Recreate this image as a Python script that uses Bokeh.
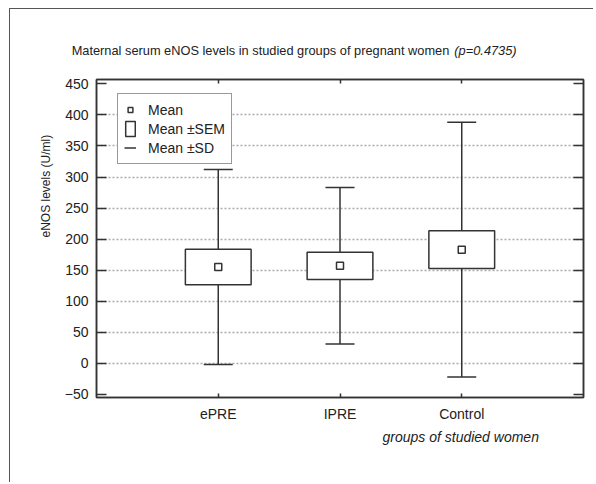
import numpy as np
from bokeh.plotting import figure
from bokeh.models import (LinearAxis, FixedTicker, Range1d, Legend, LegendItem,
                          ColumnDataSource, Title)
from bokeh.embed import file_html
from bokeh.resources import INLINE

# ---- data ----
groups = ["ePRE", "IPRE", "Control"]
means = [155, 157, 183]
sems = [28.5, 22, 30.5]
sds = [157, 126, 205]
y_ticks = [-50, 0, 50, 100, 150, 200, 250, 300, 350, 400, 450]
title_main = "Maternal serum eNOS levels in studied groups of pregnant women"
title_p = "(p=0.4735)"
y_title = "eNOS levels (U/ml)"
x_title = "groups of studied women"

FONT = "Liberation Sans"
INK = "#333333"
TXT = "#222222"

xs = list(range(1, len(groups) + 1))
m = np.array(means, float)
se = np.array(sems, float)
sd = np.array(sds, float)
src = ColumnDataSource(dict(x=xs, mean=m, lo_se=m - se, hi_se=m + se,
                            lo_sd=m - sd, hi_sd=m + sd))

p = figure(width=584, height=474, output_backend="svg", toolbar_location=None,
           x_range=Range1d(0, 4), y_range=Range1d(-55, 457),
           min_border_left=86, min_border_right=11, min_border_top=70, min_border_bottom=86,
           x_axis_location=None, y_axis_location=None)
p.styles = {"margin-left": "9px", "margin-top": "8px",
            "border-left": "1px solid #555", "border-top": "1px solid #555"}
p.outline_line_color = INK
p.outline_line_width = 1.5
p.background_fill_color = "white"
p.border_fill_color = "white"

def style_axis(ax, tick_in):
    ax.axis_line_color = INK
    ax.axis_line_width = 1.5
    ax.major_tick_line_color = INK
    ax.major_tick_line_width = 1.5
    ax.major_tick_in = tick_in
    ax.major_tick_out = 0
    ax.minor_tick_line_color = INK
    ax.minor_tick_line_width = 1.5
    ax.minor_tick_in = tick_in
    ax.minor_tick_out = 0
    ax.major_label_text_font = FONT
    ax.major_label_text_font_size = "14px"
    ax.major_label_text_color = TXT

# left axis with labels
yl = LinearAxis(ticker=FixedTicker(ticks=y_ticks),
                major_label_overrides={-50: "\u221250"})
style_axis(yl, 10)
yl.minor_tick_line_color = None
yl.major_label_standoff = 8
p.add_layout(yl, "left")

# right axis: tick marks only (drawn as minor ticks, so no labels exist)
yr = LinearAxis(ticker=FixedTicker(ticks=[], minor_ticks=y_ticks))
style_axis(yr, 10)
p.add_layout(yr, "right")

# bottom axis with group names
xb = LinearAxis(ticker=FixedTicker(ticks=xs),
                major_label_overrides={x: g for x, g in zip(xs, groups)})
style_axis(xb, 4)
xb.minor_tick_line_color = None
xb.major_label_standoff = 8
p.add_layout(xb, "below")

# top axis: inward tick marks at groups + main title as its only label
t_main_x = 1.347
t_p_x = 3.195
xt = LinearAxis(ticker=FixedTicker(ticks=[t_main_x], minor_ticks=xs),
                major_label_overrides={t_main_x: title_main})
style_axis(xt, 4)
xt.major_tick_line_color = None
xt.major_label_text_font_size = "12.8px"
xt.major_label_standoff = 22
p.add_layout(xt, "above")

# italic p-value, pulled down into the same row
xp = LinearAxis(ticker=FixedTicker(ticks=[t_p_x]),
                major_label_overrides={t_p_x: title_p})
style_axis(xp, 0)
xp.axis_line_color = None
xp.major_tick_line_color = None
xp.minor_tick_line_color = None
xp.major_label_text_font_size = "12.8px"
xp.major_label_text_font_style = "italic"
xp.major_label_standoff = -18
p.add_layout(xp, "above")

p.xgrid.visible = False
p.ygrid.ticker = FixedTicker(ticks=y_ticks[1:-1])
p.ygrid.grid_line_color = "#aaaaaa"
p.ygrid.grid_line_dash = "2 2"
p.ygrid.grid_line_width = 1.5

# marks
r_sd = p.segment(x0="x", y0="lo_sd", x1="x", y1="hi_sd", source=src,
                 line_color=INK, line_width=1.5)
p.scatter(x="x", y="hi_sd", source=src, marker="dash", size=29, line_color=INK, line_width=1.5)
p.scatter(x="x", y="lo_sd", source=src, marker="dash", size=29, line_color=INK, line_width=1.5)
r_se = p.vbar(x="x", bottom="lo_se", top="hi_se", width=0.54, source=src,
              fill_color="white", line_color=INK, line_width=1.5)
r_m = p.scatter(x="x", y="mean", source=src, marker="square", size=7,
                fill_color="white", line_color=INK, line_width=1.5)

legend = Legend(items=[LegendItem(label="Mean", renderers=[r_m]),
                       LegendItem(label="Mean \u00b1SEM", renderers=[r_se]),
                       LegendItem(label="Mean \u00b1SD", renderers=[r_sd])],
                location=(21, 233))
legend.border_line_color = INK
legend.border_line_width = 1.5
legend.background_fill_alpha = 1
legend.padding = 6
legend.margin = 0
legend.spacing = 0
legend.glyph_width = 12
legend.glyph_height = 19
legend.label_height = 19
legend.label_standoff = 12
legend.label_text_font = FONT
legend.label_text_font_size = "14px"
legend.label_text_color = TXT
p.add_layout(legend, "center")

# axis titles
ylab = Title(text=y_title, align="left", offset=160, text_font=FONT,
             text_font_size="12px", text_font_style="normal", text_color=TXT, standoff=17)
p.add_layout(ylab, "left")
xlab = Title(text=x_title, align="left", offset=286, text_font=FONT,
             text_font_size="14px", text_font_style="italic", text_color=TXT, standoff=4)
p.add_layout(xlab, "below")

open("out.html", "w").write(file_html(p, INLINE))
